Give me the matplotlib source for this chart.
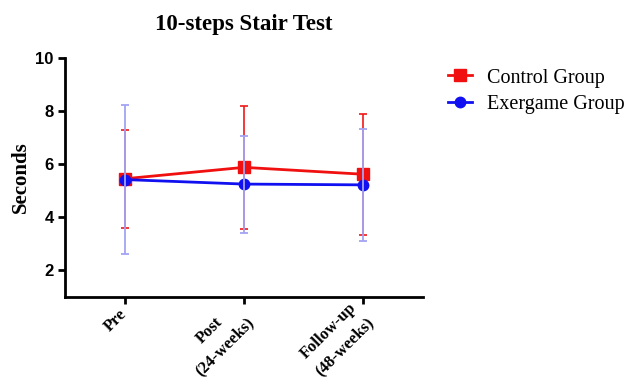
import matplotlib.pyplot as plt
import numpy as np

plt.rcParams['font.family'] = ['Liberation Serif', 'DejaVu Serif']

phases = ['Pre', 'Post\n(24-weeks)', 'Follow-up\n(48-weeks)']
control_mean = [5.45, 5.88, 5.62]
control_sd = [1.84, 2.33, 2.28]
exergame_mean = [5.42, 5.25, 5.22]
exergame_sd = [2.81, 1.83, 2.10]

x = np.arange(len(phases))

fig = plt.figure(figsize=(6.24, 3.87), dpi=100)
ax = fig.add_axes([0.104, 0.233, 0.574, 0.617])

# error bars (control underneath, exergame light blue on top)
ax.errorbar(x, control_mean, yerr=control_sd, fmt='none', ecolor='#f01818',
            elinewidth=1.2, capsize=3, capthick=1.2, zorder=2)
l1, = ax.plot(x, control_mean, color='#f01010', lw=2, marker='s', ms=8,
              label='Control Group', zorder=3)
l2, = ax.plot(x, exergame_mean, color='#1010f0', lw=2, marker='o', ms=7.5,
              label='Exergame Group', zorder=4)
ax.errorbar(x, exergame_mean, yerr=exergame_sd, fmt='none', ecolor='#a4a4f4',
            elinewidth=1.3, capsize=3, capthick=1.3, zorder=5)

ax.set_xlim(-0.5, 2.5)
ax.set_ylim(1, 10)
ax.set_yticks([2, 4, 6, 8, 10])
ax.set_xticks(x)
ax.set_xticklabels(phases, rotation=45, ha='right', va='center',
                   rotation_mode='anchor', fontweight='bold', fontsize=12,
                   multialignment='center', linespacing=1.55)
for t in ax.get_yticklabels():
    t.set_fontfamily('Liberation Sans')
    t.set_fontweight('bold')
    t.set_fontsize(12)

for s in ['top', 'right']:
    ax.spines[s].set_visible(False)
for s in ['left', 'bottom']:
    ax.spines[s].set_linewidth(2)
ax.tick_params(width=2, length=5, pad=3)
ax.tick_params(axis='x', pad=6)

ax.set_ylabel('Seconds', fontweight='bold', fontsize=15, labelpad=3)
ax.set_title('10-steps Stair Test', fontweight='bold', fontsize=16.5, pad=20)

fig.legend(handles=[l1, l2], loc='upper left', bbox_to_anchor=(0.689, 0.870),
           frameon=False, fontsize=14.5, handlelength=1.2, labelspacing=0.35,
           handletextpad=0.75)

fig.savefig('out.png', dpi=100)
